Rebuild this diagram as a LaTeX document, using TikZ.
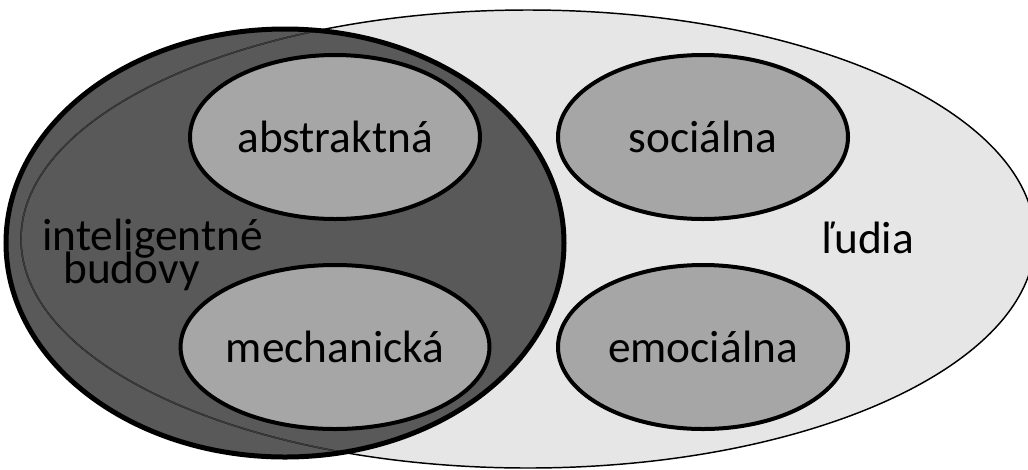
\documentclass[tikz,border=0pt]{standalone}
\usepackage{fontspec}
\setmainfont{Carlito}
\usetikzlibrary{shapes.geometric}
\definecolor{peoplefill}{HTML}{E6E6E6}
\definecolor{buildfill}{HTML}{595959}
\definecolor{subfill}{HTML}{A6A6A6}
\definecolor{innerline}{HTML}{3A3A3A}
\tikzset{
  bigell/.style={ellipse, inner sep=0pt, outer sep=0pt},
  peopleshape/.style={bigell, minimum width=760.5pt, minimum height=343.5pt},
  buildshape/.style={bigell, minimum width=418.5pt, minimum height=321pt},
  subell/.style={ellipse, draw=black, line width=3pt, fill=subfill, inner sep=0pt,
    minimum width=217.5pt, minimum height=123pt, font=\fontsize{34}{40}\selectfont},
  lbl/.style={inner sep=0pt, font=\fontsize{34}{40}\selectfont, anchor=base west}
}
\begin{document}
\begin{tikzpicture}[x=0.75pt,y=-0.75pt]
\useasboundingbox (0,0) rectangle (1028,469);
% people (background fill)
\node[peopleshape, fill=peoplefill] (people) at (528,239) {};
% intelligent buildings
\node[buildshape, fill=buildfill] (build) at (285,243) {};
% people outline on top
\node[peopleshape, draw=black, line width=1.1pt] (peopleline) at (528,239) {};
\begin{scope}
  \clip (285,243) ellipse [x radius=279, y radius=214];
  \node[peopleshape, draw=innerline, line width=1.1pt] (peopleinner) at (528,239) {};
\end{scope}
\node[buildshape, draw=black, line width=3.75pt] (buildline) at (285,243) {};
% sub ellipses
\node[subell] (abs) at (335,137) {abstraktná};
\node[subell] (mech) at (335,347) {mechanická};
\node[subell] (soc) at (703,137) {sociálna};
\node[subell] (emo) at (703,347) {emociálna};
% labels
\node[lbl] (ib1) at (42,250) {inteligentné};
\node[lbl] (ib2) at (63,283) {budovy};
\node[lbl] (ludia) at (822,253) {ľudia};
\end{tikzpicture}
\end{document}
